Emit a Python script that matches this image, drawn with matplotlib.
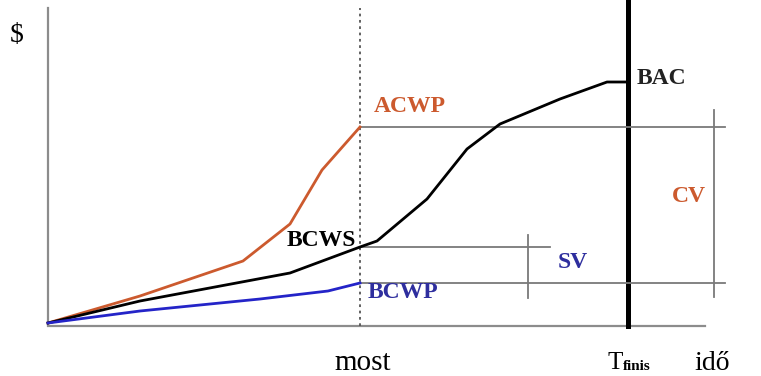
import matplotlib.pyplot as plt

# curves: time (x) and cost ($)
acwp_t = [0, 92, 195, 242, 274, 312]
acwp_c = [1, 28, 63, 100, 154, 197]

bcws_t = [0, 92, 242, 312, 329, 379, 419, 452, 512, 559, 580]
bcws_c = [1, 23, 51, 77, 83, 125, 175, 200, 225, 242, 242]

bcwp_t = [0, 92, 212, 280, 312]
bcwp_c = [1, 13, 25, 33, 41]

t_now = 312
t_finis = 580
t_end = 657
c_top = 316

orange = "#cc5a2e"
blue = "#2424c8"
navy = "#2e2e9e"
grey = "#7a7a7a"

plt.rcParams["font.family"] = ["Liberation Serif", "DejaVu Serif"]

fig = plt.figure(figsize=(7.61, 3.76), dpi=100)
ax = fig.add_axes([0, 0, 1, 1])
ax.set_xlim(-48, 713)
ax.set_ylim(-52, 324)
ax.axis("off")

# axes
ax.plot([0, 0], [0, c_top], color="#8c8c8c", lw=1.6)
ax.plot([0, t_end], [-2, -2], color="#8c8c8c", lw=1.6)

# now / finish markers
ax.plot([t_now, t_now], [-2, c_top], color="#555555", lw=1.3, ls=(0, (1.5, 2)))
ax.plot([t_finis, t_finis], [-2, 324], color="black", lw=3.6)

# variance guides
ax.plot([t_now, 677], [acwp_c[-1], acwp_c[-1]], color=grey, lw=1.3)
ax.plot([t_now, 502], [bcws_c[3], bcws_c[3]], color=grey, lw=1.3)
ax.plot([t_now, 677], [bcwp_c[-1], bcwp_c[-1]], color=grey, lw=1.3)
ax.plot([480, 480], [26, 89], color=grey, lw=1.3)
ax.plot([666, 666], [27, 214], color=grey, lw=1.3)

# curves
ax.plot(acwp_t, acwp_c, color=orange, lw=2.0)
ax.plot(bcws_t, bcws_c, color="black", lw=2.0)
ax.plot(bcwp_t, bcwp_c, color=blue, lw=2.0)

# labels
lab = dict(fontsize=17, fontweight="bold", va="center")
ax.text(-31, 289, "$", fontsize=20, ha="center", va="center")
ax.text(326, 218, "ACWP", color=orange, **lab)
ax.text(308, 84, "BCWS", color="black", ha="right", **lab)
ax.text(320, 31, "BCWP", color=navy, **lab)
ax.text(510, 61, "SV", color=navy, **lab)
ax.text(641, 127, "CV", color=orange, ha="center", **lab)
ax.text(589, 246, "BAC", color="#222222", **lab)
ax.text(315, -39, "most", fontsize=21, ha="center", va="center")
ax.text(560, -39, "T", fontsize=18, va="center")
ax.text(575, -43, "finis", fontsize=11, fontweight="bold", va="center")
ax.text(664, -39, "idő", fontsize=20, ha="center", va="center")

fig.savefig("out.png", dpi=100)
